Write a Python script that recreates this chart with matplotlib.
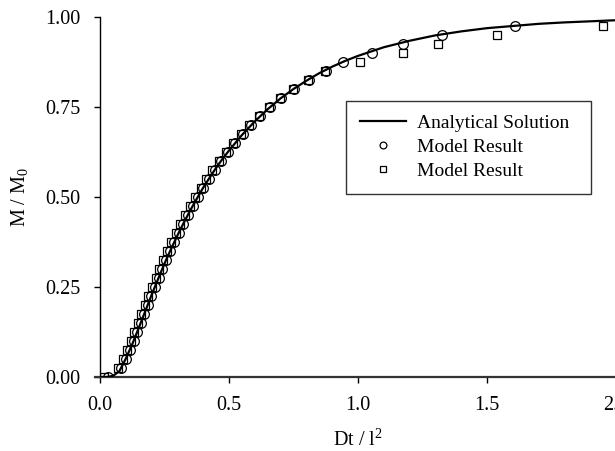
import matplotlib
matplotlib.use("Agg")
import matplotlib.pyplot as plt

plt.rcParams['font.family'] = ['Liberation Serif', 'DejaVu Serif']
plt.rcParams['mathtext.fontset'] = 'custom'
plt.rcParams['mathtext.rm'] = 'Liberation Serif'
plt.rcParams['mathtext.it'] = 'Liberation Serif'

# analytical solution
curve_x = [0.0, 0.025, 0.05, 0.075, 0.1, 0.125, 0.15, 0.175, 0.2, 0.225, 0.25,
           0.275, 0.3, 0.325, 0.35, 0.375, 0.4, 0.425, 0.45, 0.475, 0.5, 0.55,
           0.6, 0.65, 0.7, 0.75, 0.8, 0.85, 0.9, 0.95, 1.0, 1.1, 1.2, 1.3, 1.4,
           1.5, 1.6, 1.7, 1.8, 1.9, 2.0]
curve_y = [0.0, 0.0, 0.003, 0.016, 0.051, 0.091, 0.136, 0.182, 0.228, 0.272, 0.315,
           0.355, 0.393, 0.429, 0.463, 0.495, 0.526, 0.554, 0.581, 0.606, 0.629, 0.672,
           0.710, 0.744, 0.774, 0.800, 0.823, 0.844, 0.862, 0.878, 0.892, 0.916, 0.934, 0.949, 0.960,
           0.969, 0.975, 0.981, 0.985, 0.988, 0.991]

# model results (circles)
circle_x = [0.03, 0.081, 0.099, 0.117, 0.130, 0.144, 0.158, 0.171, 0.185, 0.198,
            0.212, 0.227, 0.241, 0.256, 0.272, 0.288, 0.305, 0.322, 0.340, 0.359,
            0.379, 0.400, 0.422, 0.445, 0.469, 0.495, 0.523, 0.553, 0.586, 0.621,
            0.660, 0.702, 0.752, 0.810, 0.875, 0.942, 1.055, 1.175, 1.325, 1.61]
circle_y = [0.0, 0.025, 0.05, 0.075, 0.1, 0.125, 0.15, 0.175, 0.2, 0.225,
            0.25, 0.275, 0.3, 0.325, 0.35, 0.375, 0.4, 0.425, 0.45, 0.475,
            0.5, 0.525, 0.55, 0.575, 0.6, 0.625, 0.65, 0.675, 0.7, 0.725,
            0.75, 0.775, 0.8, 0.825, 0.85, 0.875, 0.9, 0.925, 0.95, 0.975]

# model results (squares)
square_x = [0.015, 0.07, 0.088, 0.106, 0.119, 0.133, 0.147, 0.160, 0.174, 0.187,
            0.201, 0.216, 0.230, 0.245, 0.261, 0.277, 0.294, 0.311, 0.329, 0.348,
            0.368, 0.390, 0.412, 0.436, 0.460, 0.487, 0.515, 0.546, 0.579, 0.615,
            0.655, 0.698, 0.750, 0.806, 0.872, 1.008, 1.174, 1.31, 1.54, 1.95]
square_y = circle_y

xticks = [0.0, 0.5, 1.0, 1.5, 2.0]
yticks = [0.0, 0.25, 0.5, 0.75, 1.0]

fig = plt.figure(figsize=(6.15, 4.51), dpi=100)
ax = fig.add_axes([100/615, 74/451, 516/615, 360/451])

ax.plot(curve_x, curve_y, color='black', lw=1.6, label='Analytical Solution', zorder=3)
ax.plot(circle_x, circle_y, ls='none', marker='o', ms=7, mfc='none', mec='black',
        mew=0.9, label='Model Result', zorder=2)
ax.plot(square_x, square_y, ls='none', marker='s', ms=6, mfc='none', mec='black',
        mew=0.9, label='Model Result', zorder=2)

ax.set_xlim(0, 2.0)
ax.set_ylim(0, 1.0)
ax.set_xticks(xticks)
ax.set_yticks(yticks)
ax.set_xticklabels(['%.1f' % v for v in xticks])
ax.set_yticklabels(['%.2f' % v for v in yticks])
ax.tick_params(axis='both', direction='out', length=4, width=1, labelsize=14.5, colors='black')
ax.tick_params(axis='x', pad=10)
ax.tick_params(axis='y', pad=10)

for side in ['top', 'right']:
    ax.spines[side].set_visible(False)
ax.spines['left'].set_linewidth(1.0)
ax.spines['bottom'].set_linewidth(1.6)
ax.spines['bottom'].set_color('#333333')
ax.spines['bottom'].set_bounds(-0.02, 2.0)
ax.spines['bottom'].set_clip_on(False)

ax.set_xlabel(r'Dt / l$^2$', fontsize=14.5, labelpad=10)
ax.set_ylabel(r'M / M$_0$', fontsize=14.5, labelpad=11)

leg = ax.legend(loc='upper left', bbox_to_anchor=(0.4767, 0.5, 0.475, 0.2667),
                mode='expand', borderaxespad=0,
                fontsize=14, frameon=True, fancybox=False, markerscale=0.7,
                handlelength=2.4, handletextpad=0.55, labelspacing=0.33, borderpad=0.7)
leg.get_frame().set_edgecolor('black')
leg.get_frame().set_linewidth(1.0)

fig.savefig('out.png', dpi=100)
